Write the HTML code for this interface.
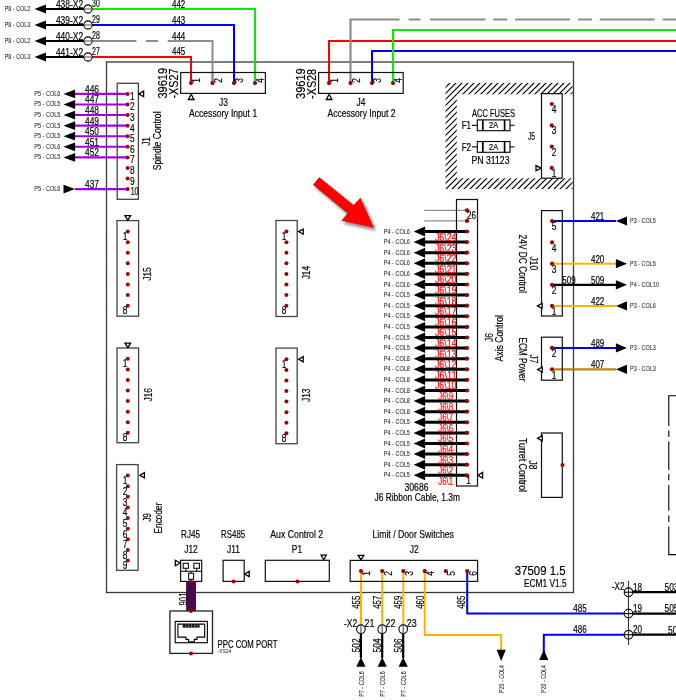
<!DOCTYPE html>
<html><head><meta charset="utf-8"><style>
html,body{margin:0;padding:0;background:#fff;overflow:hidden;}
svg{display:block;font-family:"Liberation Sans", sans-serif;will-change:transform;}
</style></head><body>
<svg width="676" height="700" viewBox="0 0 676 700">
<rect width="676" height="700" fill="#fff"/>
<rect x="106.50" y="62.00" width="467.00" height="530.50" fill="none" stroke="#383838" stroke-width="1.3"/>
<clipPath id="hc"><path d="M445.5,83 H572.6 V189 H445.5 Z M456.8,94.3 V178.2 H572.6 V94.3 Z" clip-rule="evenodd"/></clipPath>
<g clip-path="url(#hc)"><path d="M77,300 L377,0 M83,300 L383,0 M89,300 L389,0 M95,300 L395,0 M101,300 L401,0 M107,300 L407,0 M113,300 L413,0 M119,300 L419,0 M125,300 L425,0 M131,300 L431,0 M137,300 L437,0 M143,300 L443,0 M149,300 L449,0 M155,300 L455,0 M161,300 L461,0 M167,300 L467,0 M173,300 L473,0 M179,300 L479,0 M185,300 L485,0 M191,300 L491,0 M197,300 L497,0 M203,300 L503,0 M209,300 L509,0 M215,300 L515,0 M221,300 L521,0 M227,300 L527,0 M233,300 L533,0 M239,300 L539,0 M245,300 L545,0 M251,300 L551,0 M257,300 L557,0 M263,300 L563,0 M269,300 L569,0 M275,300 L575,0 M281,300 L581,0 M287,300 L587,0 M293,300 L593,0 M299,300 L599,0 M305,300 L605,0 M311,300 L611,0 M317,300 L617,0 M323,300 L623,0 M329,300 L629,0 M335,300 L635,0 M341,300 L641,0 M347,300 L647,0 M353,300 L653,0 M359,300 L659,0 M365,300 L665,0 M371,300 L671,0 M377,300 L677,0 M383,300 L683,0 M389,300 L689,0 M395,300 L695,0 M401,300 L701,0 M407,300 L707,0 M413,300 L713,0 M419,300 L719,0 M425,300 L725,0 M431,300 L731,0 M437,300 L737,0 M443,300 L743,0 M449,300 L749,0 M455,300 L755,0 M461,300 L761,0 M467,300 L767,0 M473,300 L773,0 M479,300 L779,0 M485,300 L785,0 M491,300 L791,0 M497,300 L797,0 M503,300 L803,0 M509,300 L809,0 M515,300 L815,0 M521,300 L821,0 M527,300 L827,0 M533,300 L833,0 M539,300 L839,0 M545,300 L845,0 M551,300 L851,0 M557,300 L857,0 M563,300 L863,0 M569,300 L869,0 M575,300 L875,0 M581,300 L881,0 M587,300 L887,0 M593,300 L893,0 M599,300 L899,0 M605,300 L905,0 M611,300 L911,0" stroke="#000" stroke-width="1.15" fill="none"/></g>
<polyline points="92.00,9.00 255.00,9.00 255.00,83.00" fill="none" stroke="#00f000" stroke-width="2" />
<text x="0" y="0" font-size="10.5" text-anchor="middle" dominant-baseline="central" fill="#000" stroke="#000" stroke-width="0.18" transform="translate(178.60 3.80)" textLength="13.3" lengthAdjust="spacingAndGlyphs" >442</text>
<polyline points="92.00,25.00 234.00,25.00 234.00,83.00" fill="none" stroke="#0000f0" stroke-width="2" />
<text x="0" y="0" font-size="10.5" text-anchor="middle" dominant-baseline="central" fill="#000" stroke="#000" stroke-width="0.18" transform="translate(178.60 19.90)" textLength="13.3" lengthAdjust="spacingAndGlyphs" >443</text>
<line x1="92.00" y1="41.00" x2="136.40" y2="41.00" stroke="#8c8c8c" stroke-width="2" />
<line x1="146.00" y1="41.00" x2="158.00" y2="41.00" stroke="#8c8c8c" stroke-width="2" />
<polyline points="167.70,41.00 212.50,41.00 212.50,83.00" fill="none" stroke="#8c8c8c" stroke-width="2" />
<text x="0" y="0" font-size="10.5" text-anchor="middle" dominant-baseline="central" fill="#000" stroke="#000" stroke-width="0.18" transform="translate(178.60 35.70)" textLength="13.3" lengthAdjust="spacingAndGlyphs" >444</text>
<polyline points="92.00,57.00 191.00,57.00 191.00,83.00" fill="none" stroke="#ff0000" stroke-width="2" />
<text x="0" y="0" font-size="10.5" text-anchor="middle" dominant-baseline="central" fill="#000" stroke="#000" stroke-width="0.18" transform="translate(178.60 50.50)" textLength="13.3" lengthAdjust="spacingAndGlyphs" >445</text>
<polygon points="34.40,9.00 46.00,4.60 46.00,13.40" fill="#000" stroke="none" stroke-width="1" />
<line x1="45.00" y1="9.00" x2="84.00" y2="9.00" stroke="#000" stroke-width="2.2" />
<text x="0" y="0" font-size="7.6" text-anchor="middle" dominant-baseline="central" fill="#222" stroke="#222" stroke-width="0.05" transform="translate(17.50 8.50)" textLength="25.5" lengthAdjust="spacingAndGlyphs" >P8 - COL2</text>
<text x="0" y="0" font-size="10.5" text-anchor="middle" dominant-baseline="central" fill="#000" stroke="#000" stroke-width="0.18" transform="translate(69.50 3.60)" textLength="27.2" lengthAdjust="spacingAndGlyphs" >438-X2</text>
<text x="0" y="0" font-size="10.5" text-anchor="middle" dominant-baseline="central" fill="#000" stroke="#000" stroke-width="0.18" transform="translate(95.90 3.40)" textLength="7.7" lengthAdjust="spacingAndGlyphs" >30</text>
<circle cx="88" cy="9" r="4.1" fill="#fff" stroke="#000" stroke-width="1.1"/>
<line x1="84.00" y1="9.00" x2="92.00" y2="9.00" stroke="#808080" stroke-width="1.4" />
<polygon points="34.40,25.00 46.00,20.60 46.00,29.40" fill="#000" stroke="none" stroke-width="1" />
<line x1="45.00" y1="25.00" x2="84.00" y2="25.00" stroke="#000" stroke-width="2.2" />
<text x="0" y="0" font-size="7.6" text-anchor="middle" dominant-baseline="central" fill="#222" stroke="#222" stroke-width="0.05" transform="translate(17.50 24.50)" textLength="25.5" lengthAdjust="spacingAndGlyphs" >P8 - COL3</text>
<text x="0" y="0" font-size="10.5" text-anchor="middle" dominant-baseline="central" fill="#000" stroke="#000" stroke-width="0.18" transform="translate(69.50 19.60)" textLength="27.2" lengthAdjust="spacingAndGlyphs" >439-X2</text>
<text x="0" y="0" font-size="10.5" text-anchor="middle" dominant-baseline="central" fill="#000" stroke="#000" stroke-width="0.18" transform="translate(95.90 19.40)" textLength="7.7" lengthAdjust="spacingAndGlyphs" >29</text>
<circle cx="88" cy="25" r="4.1" fill="#fff" stroke="#000" stroke-width="1.1"/>
<line x1="84.00" y1="25.00" x2="92.00" y2="25.00" stroke="#808080" stroke-width="1.4" />
<polygon points="34.40,41.00 46.00,36.60 46.00,45.40" fill="#000" stroke="none" stroke-width="1" />
<line x1="45.00" y1="41.00" x2="84.00" y2="41.00" stroke="#000" stroke-width="2.2" />
<text x="0" y="0" font-size="7.6" text-anchor="middle" dominant-baseline="central" fill="#222" stroke="#222" stroke-width="0.05" transform="translate(17.50 40.50)" textLength="25.5" lengthAdjust="spacingAndGlyphs" >P8 - COL2</text>
<text x="0" y="0" font-size="10.5" text-anchor="middle" dominant-baseline="central" fill="#000" stroke="#000" stroke-width="0.18" transform="translate(69.50 35.60)" textLength="27.2" lengthAdjust="spacingAndGlyphs" >440-X2</text>
<text x="0" y="0" font-size="10.5" text-anchor="middle" dominant-baseline="central" fill="#000" stroke="#000" stroke-width="0.18" transform="translate(95.90 35.40)" textLength="7.7" lengthAdjust="spacingAndGlyphs" >28</text>
<circle cx="88" cy="41" r="4.1" fill="#fff" stroke="#000" stroke-width="1.1"/>
<line x1="84.00" y1="41.00" x2="92.00" y2="41.00" stroke="#808080" stroke-width="1.4" />
<polygon points="34.40,57.00 46.00,52.60 46.00,61.40" fill="#000" stroke="none" stroke-width="1" />
<line x1="45.00" y1="57.00" x2="84.00" y2="57.00" stroke="#000" stroke-width="2.2" />
<text x="0" y="0" font-size="7.6" text-anchor="middle" dominant-baseline="central" fill="#222" stroke="#222" stroke-width="0.05" transform="translate(17.50 56.50)" textLength="25.5" lengthAdjust="spacingAndGlyphs" >P8 - COL3</text>
<text x="0" y="0" font-size="10.5" text-anchor="middle" dominant-baseline="central" fill="#000" stroke="#000" stroke-width="0.18" transform="translate(69.50 51.60)" textLength="27.2" lengthAdjust="spacingAndGlyphs" >441-X2</text>
<text x="0" y="0" font-size="10.5" text-anchor="middle" dominant-baseline="central" fill="#000" stroke="#000" stroke-width="0.18" transform="translate(95.90 51.40)" textLength="7.7" lengthAdjust="spacingAndGlyphs" >27</text>
<circle cx="88" cy="57" r="4.1" fill="#fff" stroke="#000" stroke-width="1.1"/>
<line x1="84.00" y1="57.00" x2="92.00" y2="57.00" stroke="#808080" stroke-width="1.4" />
<line x1="255.00" y1="72.00" x2="255.00" y2="83.00" stroke="#00f000" stroke-width="2" />
<line x1="234.00" y1="72.00" x2="234.00" y2="83.00" stroke="#0000f0" stroke-width="2" />
<line x1="212.50" y1="72.00" x2="212.50" y2="83.00" stroke="#8c8c8c" stroke-width="2" />
<line x1="191.00" y1="72.00" x2="191.00" y2="83.00" stroke="#ff0000" stroke-width="2" />
<rect x="180.70" y="72.50" width="84.70" height="20.90" fill="none" stroke="#111" stroke-width="1.2"/>
<circle cx="191.00" cy="83.10" r="2.1" fill="#a80000"/>
<text x="0" y="0" font-size="10.5" text-anchor="middle" dominant-baseline="central" fill="#000" stroke="#000" stroke-width="0.18" transform="translate(196.50 80.40) rotate(-90) scale(0.8 1)" >1</text>
<circle cx="212.50" cy="83.10" r="2.1" fill="#a80000"/>
<text x="0" y="0" font-size="10.5" text-anchor="middle" dominant-baseline="central" fill="#000" stroke="#000" stroke-width="0.18" transform="translate(218.00 80.40) rotate(-90) scale(0.8 1)" >2</text>
<circle cx="234.00" cy="83.10" r="2.1" fill="#a80000"/>
<text x="0" y="0" font-size="10.5" text-anchor="middle" dominant-baseline="central" fill="#000" stroke="#000" stroke-width="0.18" transform="translate(239.50 80.40) rotate(-90) scale(0.8 1)" >3</text>
<circle cx="255.00" cy="83.10" r="2.1" fill="#a80000"/>
<text x="0" y="0" font-size="10.5" text-anchor="middle" dominant-baseline="central" fill="#000" stroke="#000" stroke-width="0.18" transform="translate(260.50 80.40) rotate(-90) scale(0.8 1)" >4</text>
<polygon points="191.20,94.30 188.40,99.50 194.00,99.50" fill="#fff" stroke="#000" stroke-width="1.3" />
<text x="0" y="0" font-size="10.5" text-anchor="middle" dominant-baseline="central" fill="#000" stroke="#000" stroke-width="0.18" transform="translate(223.40 101.70) scale(0.8 1)" >J3</text>
<text x="0" y="0" font-size="10.5" text-anchor="middle" dominant-baseline="central" fill="#000" stroke="#000" stroke-width="0.18" transform="translate(223.10 112.60)" textLength="68.1" lengthAdjust="spacingAndGlyphs" >Accessory Input 1</text>
<text x="0" y="0" font-size="13" text-anchor="middle" dominant-baseline="central" fill="#000" stroke="#000" stroke-width="0.18" transform="translate(162.70 83.20) rotate(-90)" textLength="30.7" lengthAdjust="spacingAndGlyphs" >39619</text>
<text x="0" y="0" font-size="13" text-anchor="middle" dominant-baseline="central" fill="#000" stroke="#000" stroke-width="0.18" transform="translate(173.60 83.50) rotate(-90)" textLength="30" lengthAdjust="spacingAndGlyphs" >-XS27</text>
<polyline points="329.00,83.00 329.00,41.00 676.00,41.00" fill="none" stroke="#ff0000" stroke-width="2" />
<polyline points="372.00,83.00 372.00,51.00 676.00,51.00" fill="none" stroke="#0000f0" stroke-width="2" />
<polyline points="393.00,83.00 393.00,30.00 676.00,30.00" fill="none" stroke="#00f000" stroke-width="2" />
<polyline points="350.50,83.00 350.50,19.50 399.50,19.50" fill="none" stroke="#8c8c8c" stroke-width="2.2" />
<line x1="409.50" y1="19.50" x2="419.60" y2="19.50" stroke="#8c8c8c" stroke-width="2.2" stroke-linecap="round"/>
<line x1="431.00" y1="19.50" x2="484.70" y2="19.50" stroke="#8c8c8c" stroke-width="2.2" stroke-linecap="round"/>
<line x1="494.00" y1="19.50" x2="506.30" y2="19.50" stroke="#8c8c8c" stroke-width="2.2" stroke-linecap="round"/>
<line x1="516.00" y1="19.50" x2="569.00" y2="19.50" stroke="#8c8c8c" stroke-width="2.2" stroke-linecap="round"/>
<line x1="579.00" y1="19.50" x2="591.00" y2="19.50" stroke="#8c8c8c" stroke-width="2.2" stroke-linecap="round"/>
<line x1="600.60" y1="19.50" x2="653.70" y2="19.50" stroke="#8c8c8c" stroke-width="2.2" stroke-linecap="round"/>
<line x1="663.50" y1="19.50" x2="676.00" y2="19.50" stroke="#8c8c8c" stroke-width="2.2" stroke-linecap="round"/>
<rect x="318.60" y="72.50" width="84.60" height="20.90" fill="none" stroke="#111" stroke-width="1.2"/>
<circle cx="329.00" cy="83.10" r="2.1" fill="#a80000"/>
<text x="0" y="0" font-size="10.5" text-anchor="middle" dominant-baseline="central" fill="#000" stroke="#000" stroke-width="0.18" transform="translate(334.50 80.40) rotate(-90) scale(0.8 1)" >1</text>
<circle cx="350.50" cy="83.10" r="2.1" fill="#a80000"/>
<text x="0" y="0" font-size="10.5" text-anchor="middle" dominant-baseline="central" fill="#000" stroke="#000" stroke-width="0.18" transform="translate(356.00 80.40) rotate(-90) scale(0.8 1)" >2</text>
<circle cx="372.00" cy="83.10" r="2.1" fill="#a80000"/>
<text x="0" y="0" font-size="10.5" text-anchor="middle" dominant-baseline="central" fill="#000" stroke="#000" stroke-width="0.18" transform="translate(377.50 80.40) rotate(-90) scale(0.8 1)" >3</text>
<circle cx="393.00" cy="83.10" r="2.1" fill="#a80000"/>
<text x="0" y="0" font-size="10.5" text-anchor="middle" dominant-baseline="central" fill="#000" stroke="#000" stroke-width="0.18" transform="translate(398.50 80.40) rotate(-90) scale(0.8 1)" >4</text>
<polygon points="329.10,94.30 326.30,99.50 331.90,99.50" fill="#fff" stroke="#000" stroke-width="1.3" />
<text x="0" y="0" font-size="10.5" text-anchor="middle" dominant-baseline="central" fill="#000" stroke="#000" stroke-width="0.18" transform="translate(361.00 101.70) scale(0.8 1)" >J4</text>
<text x="0" y="0" font-size="10.5" text-anchor="middle" dominant-baseline="central" fill="#000" stroke="#000" stroke-width="0.18" transform="translate(361.50 112.60)" textLength="68.1" lengthAdjust="spacingAndGlyphs" >Accessory Input 2</text>
<text x="0" y="0" font-size="13" text-anchor="middle" dominant-baseline="central" fill="#000" stroke="#000" stroke-width="0.18" transform="translate(300.70 83.60) rotate(-90)" textLength="30.7" lengthAdjust="spacingAndGlyphs" >39619</text>
<text x="0" y="0" font-size="13" text-anchor="middle" dominant-baseline="central" fill="#000" stroke="#000" stroke-width="0.18" transform="translate(311.60 83.90) rotate(-90)" textLength="30" lengthAdjust="spacingAndGlyphs" >-XS28</text>
<text x="0" y="0" font-size="10.5" text-anchor="middle" dominant-baseline="central" fill="#000" stroke="#000" stroke-width="0.18" transform="translate(493.50 112.70)" textLength="43" lengthAdjust="spacingAndGlyphs" >ACC FUSES</text>
<text x="0" y="0" font-size="10.5" text-anchor="middle" dominant-baseline="central" fill="#000" stroke="#000" stroke-width="0.18" transform="translate(466.40 125.30)" textLength="9.5" lengthAdjust="spacingAndGlyphs" >F1</text>
<line x1="472.00" y1="125.30" x2="477.30" y2="125.30" stroke="#000" stroke-width="1.1" />
<line x1="510.00" y1="125.30" x2="514.50" y2="125.30" stroke="#000" stroke-width="1.1" />
<rect x="477.30" y="119.90" width="32.70" height="10.80" fill="none" stroke="#000" stroke-width="1.1"/>
<line x1="482.80" y1="119.90" x2="482.80" y2="130.70" stroke="#000" stroke-width="1.7" />
<line x1="504.60" y1="119.90" x2="504.60" y2="130.70" stroke="#000" stroke-width="1.7" />
<text x="0" y="0" font-size="8.5" text-anchor="middle" dominant-baseline="central" fill="#000" stroke="#000" stroke-width="0.18" transform="translate(493.60 125.30)" textLength="9" lengthAdjust="spacingAndGlyphs" >2A</text>
<text x="0" y="0" font-size="10.5" text-anchor="middle" dominant-baseline="central" fill="#000" stroke="#000" stroke-width="0.18" transform="translate(466.40 146.90)" textLength="9.5" lengthAdjust="spacingAndGlyphs" >F2</text>
<line x1="472.00" y1="146.90" x2="477.30" y2="146.90" stroke="#000" stroke-width="1.1" />
<line x1="510.00" y1="146.90" x2="514.50" y2="146.90" stroke="#000" stroke-width="1.1" />
<rect x="477.30" y="141.50" width="32.70" height="10.80" fill="none" stroke="#000" stroke-width="1.1"/>
<line x1="482.80" y1="141.50" x2="482.80" y2="152.30" stroke="#000" stroke-width="1.7" />
<line x1="504.60" y1="141.50" x2="504.60" y2="152.30" stroke="#000" stroke-width="1.7" />
<text x="0" y="0" font-size="8.5" text-anchor="middle" dominant-baseline="central" fill="#000" stroke="#000" stroke-width="0.18" transform="translate(493.60 146.90)" textLength="9" lengthAdjust="spacingAndGlyphs" >2A</text>
<text x="0" y="0" font-size="10.5" text-anchor="middle" dominant-baseline="central" fill="#000" stroke="#000" stroke-width="0.18" transform="translate(490.50 160.00)" textLength="38" lengthAdjust="spacingAndGlyphs" >PN 31123</text>
<rect x="541.50" y="93.60" width="20.70" height="84.60" fill="none" stroke="#111" stroke-width="1.2"/>
<circle cx="551.80" cy="104.00" r="2.1" fill="#a80000"/>
<text x="0" y="0" font-size="10.5" text-anchor="middle" dominant-baseline="central" fill="#000" stroke="#000" stroke-width="0.18" transform="translate(554.00 109.20) scale(0.8 1)" >4</text>
<circle cx="551.80" cy="125.40" r="2.1" fill="#a80000"/>
<text x="0" y="0" font-size="10.5" text-anchor="middle" dominant-baseline="central" fill="#000" stroke="#000" stroke-width="0.18" transform="translate(554.00 130.60) scale(0.8 1)" >3</text>
<circle cx="551.80" cy="146.60" r="2.1" fill="#a80000"/>
<text x="0" y="0" font-size="10.5" text-anchor="middle" dominant-baseline="central" fill="#000" stroke="#000" stroke-width="0.18" transform="translate(554.00 151.80) scale(0.8 1)" >2</text>
<circle cx="551.80" cy="167.90" r="2.1" fill="#a80000"/>
<text x="0" y="0" font-size="10.5" text-anchor="middle" dominant-baseline="central" fill="#000" stroke="#000" stroke-width="0.18" transform="translate(554.00 173.10) scale(0.8 1)" >1</text>
<polygon points="541.20,168.20 536.00,165.60 536.00,170.80" fill="#fff" stroke="#000" stroke-width="1.3" />
<text x="0" y="0" font-size="10.5" text-anchor="middle" dominant-baseline="central" fill="#000" stroke="#000" stroke-width="0.18" transform="translate(531.50 135.70)" textLength="7" lengthAdjust="spacingAndGlyphs" >J5</text>
<filter id="sh" x="-30%" y="-30%" width="160%" height="160%"><feGaussianBlur stdDeviation="1.6"/></filter>
<polygon points="321.4,180.3 355.7,207.9 362.59999999999997,200.8 376.09999999999997,230.8 343.59999999999997,223.7 349.59999999999997,216.2 315.2,187.8" fill="#000" opacity="0.45" filter="url(#sh)"/>
<polygon points="319.20,177.30 353.50,204.90 360.40,197.80 373.90,227.80 341.40,220.70 347.40,213.20 313.00,184.80" fill="#ff0000" stroke="none" stroke-width="1" />
<line x1="424.20" y1="210.30" x2="467.00" y2="210.30" stroke="#909090" stroke-width="1.2" />
<line x1="424.20" y1="220.90" x2="467.00" y2="220.90" stroke="#909090" stroke-width="1.2" />
<line x1="424.00" y1="231.50" x2="467.00" y2="231.50" stroke="#000" stroke-width="3" />
<polygon points="413.60,231.50 425.10,226.50 425.10,236.50" fill="#000" stroke="none" stroke-width="1" />
<text x="0" y="0" font-size="7.6" text-anchor="middle" dominant-baseline="central" fill="#222" stroke="#222" stroke-width="0.05" transform="translate(396.80 231.00)" textLength="26" lengthAdjust="spacingAndGlyphs" >P4 - COL6</text>
<line x1="424.00" y1="242.10" x2="467.00" y2="242.10" stroke="#000" stroke-width="3" />
<polygon points="413.60,242.10 425.10,237.10 425.10,247.10" fill="#000" stroke="none" stroke-width="1" />
<text x="0" y="0" font-size="7.6" text-anchor="middle" dominant-baseline="central" fill="#222" stroke="#222" stroke-width="0.05" transform="translate(396.80 241.60)" textLength="26" lengthAdjust="spacingAndGlyphs" >P4 - COL6</text>
<line x1="424.00" y1="252.70" x2="467.00" y2="252.70" stroke="#000" stroke-width="3" />
<polygon points="413.60,252.70 425.10,247.70 425.10,257.70" fill="#000" stroke="none" stroke-width="1" />
<text x="0" y="0" font-size="7.6" text-anchor="middle" dominant-baseline="central" fill="#222" stroke="#222" stroke-width="0.05" transform="translate(396.80 252.20)" textLength="26" lengthAdjust="spacingAndGlyphs" >P4 - COL6</text>
<line x1="424.00" y1="263.30" x2="467.00" y2="263.30" stroke="#000" stroke-width="3" />
<polygon points="413.60,263.30 425.10,258.30 425.10,268.30" fill="#000" stroke="none" stroke-width="1" />
<text x="0" y="0" font-size="7.6" text-anchor="middle" dominant-baseline="central" fill="#222" stroke="#222" stroke-width="0.05" transform="translate(396.80 262.80)" textLength="26" lengthAdjust="spacingAndGlyphs" >P4 - COL6</text>
<line x1="424.00" y1="273.90" x2="467.00" y2="273.90" stroke="#000" stroke-width="3" />
<polygon points="413.60,273.90 425.10,268.90 425.10,278.90" fill="#000" stroke="none" stroke-width="1" />
<text x="0" y="0" font-size="7.6" text-anchor="middle" dominant-baseline="central" fill="#222" stroke="#222" stroke-width="0.05" transform="translate(396.80 273.40)" textLength="26" lengthAdjust="spacingAndGlyphs" >P4 - COL6</text>
<line x1="424.00" y1="284.50" x2="467.00" y2="284.50" stroke="#000" stroke-width="3" />
<polygon points="413.60,284.50 425.10,279.50 425.10,289.50" fill="#000" stroke="none" stroke-width="1" />
<text x="0" y="0" font-size="7.6" text-anchor="middle" dominant-baseline="central" fill="#222" stroke="#222" stroke-width="0.05" transform="translate(396.80 284.00)" textLength="26" lengthAdjust="spacingAndGlyphs" >P4 - COL6</text>
<line x1="424.00" y1="295.10" x2="467.00" y2="295.10" stroke="#000" stroke-width="3" />
<polygon points="413.60,295.10 425.10,290.10 425.10,300.10" fill="#000" stroke="none" stroke-width="1" />
<text x="0" y="0" font-size="7.6" text-anchor="middle" dominant-baseline="central" fill="#222" stroke="#222" stroke-width="0.05" transform="translate(396.80 294.60)" textLength="26" lengthAdjust="spacingAndGlyphs" >P4 - COL5</text>
<line x1="424.00" y1="305.70" x2="467.00" y2="305.70" stroke="#000" stroke-width="3" />
<polygon points="413.60,305.70 425.10,300.70 425.10,310.70" fill="#000" stroke="none" stroke-width="1" />
<text x="0" y="0" font-size="7.6" text-anchor="middle" dominant-baseline="central" fill="#222" stroke="#222" stroke-width="0.05" transform="translate(396.80 305.20)" textLength="26" lengthAdjust="spacingAndGlyphs" >P4 - COL5</text>
<line x1="424.00" y1="316.30" x2="467.00" y2="316.30" stroke="#000" stroke-width="3" />
<polygon points="413.60,316.30 425.10,311.30 425.10,321.30" fill="#000" stroke="none" stroke-width="1" />
<text x="0" y="0" font-size="7.6" text-anchor="middle" dominant-baseline="central" fill="#222" stroke="#222" stroke-width="0.05" transform="translate(396.80 315.80)" textLength="26" lengthAdjust="spacingAndGlyphs" >P4 - COL5</text>
<line x1="424.00" y1="326.90" x2="467.00" y2="326.90" stroke="#000" stroke-width="3" />
<polygon points="413.60,326.90 425.10,321.90 425.10,331.90" fill="#000" stroke="none" stroke-width="1" />
<text x="0" y="0" font-size="7.6" text-anchor="middle" dominant-baseline="central" fill="#222" stroke="#222" stroke-width="0.05" transform="translate(396.80 326.40)" textLength="26" lengthAdjust="spacingAndGlyphs" >P4 - COL5</text>
<line x1="424.00" y1="337.50" x2="467.00" y2="337.50" stroke="#000" stroke-width="3" />
<polygon points="413.60,337.50 425.10,332.50 425.10,342.50" fill="#000" stroke="none" stroke-width="1" />
<text x="0" y="0" font-size="7.6" text-anchor="middle" dominant-baseline="central" fill="#222" stroke="#222" stroke-width="0.05" transform="translate(396.80 337.00)" textLength="26" lengthAdjust="spacingAndGlyphs" >P4 - COL5</text>
<line x1="424.00" y1="348.10" x2="467.00" y2="348.10" stroke="#000" stroke-width="3" />
<polygon points="413.60,348.10 425.10,343.10 425.10,353.10" fill="#000" stroke="none" stroke-width="1" />
<text x="0" y="0" font-size="7.6" text-anchor="middle" dominant-baseline="central" fill="#222" stroke="#222" stroke-width="0.05" transform="translate(396.80 347.60)" textLength="26" lengthAdjust="spacingAndGlyphs" >P4 - COL5</text>
<line x1="424.00" y1="358.70" x2="467.00" y2="358.70" stroke="#000" stroke-width="3" />
<polygon points="413.60,358.70 425.10,353.70 425.10,363.70" fill="#000" stroke="none" stroke-width="1" />
<text x="0" y="0" font-size="7.6" text-anchor="middle" dominant-baseline="central" fill="#222" stroke="#222" stroke-width="0.05" transform="translate(396.80 358.20)" textLength="26" lengthAdjust="spacingAndGlyphs" >P4 - COL8</text>
<line x1="424.00" y1="369.30" x2="467.00" y2="369.30" stroke="#000" stroke-width="3" />
<polygon points="413.60,369.30 425.10,364.30 425.10,374.30" fill="#000" stroke="none" stroke-width="1" />
<text x="0" y="0" font-size="7.6" text-anchor="middle" dominant-baseline="central" fill="#222" stroke="#222" stroke-width="0.05" transform="translate(396.80 368.80)" textLength="26" lengthAdjust="spacingAndGlyphs" >P4 - COL8</text>
<line x1="424.00" y1="379.90" x2="467.00" y2="379.90" stroke="#000" stroke-width="3" />
<polygon points="413.60,379.90 425.10,374.90 425.10,384.90" fill="#000" stroke="none" stroke-width="1" />
<text x="0" y="0" font-size="7.6" text-anchor="middle" dominant-baseline="central" fill="#222" stroke="#222" stroke-width="0.05" transform="translate(396.80 379.40)" textLength="26" lengthAdjust="spacingAndGlyphs" >P4 - COL8</text>
<line x1="424.00" y1="390.50" x2="467.00" y2="390.50" stroke="#000" stroke-width="3" />
<polygon points="413.60,390.50 425.10,385.50 425.10,395.50" fill="#000" stroke="none" stroke-width="1" />
<text x="0" y="0" font-size="7.6" text-anchor="middle" dominant-baseline="central" fill="#222" stroke="#222" stroke-width="0.05" transform="translate(396.80 390.00)" textLength="26" lengthAdjust="spacingAndGlyphs" >P4 - COL8</text>
<line x1="424.00" y1="401.10" x2="467.00" y2="401.10" stroke="#000" stroke-width="3" />
<polygon points="413.60,401.10 425.10,396.10 425.10,406.10" fill="#000" stroke="none" stroke-width="1" />
<text x="0" y="0" font-size="7.6" text-anchor="middle" dominant-baseline="central" fill="#222" stroke="#222" stroke-width="0.05" transform="translate(396.80 400.60)" textLength="26" lengthAdjust="spacingAndGlyphs" >P4 - COL8</text>
<line x1="424.00" y1="411.70" x2="467.00" y2="411.70" stroke="#000" stroke-width="3" />
<polygon points="413.60,411.70 425.10,406.70 425.10,416.70" fill="#000" stroke="none" stroke-width="1" />
<text x="0" y="0" font-size="7.6" text-anchor="middle" dominant-baseline="central" fill="#222" stroke="#222" stroke-width="0.05" transform="translate(396.80 411.20)" textLength="26" lengthAdjust="spacingAndGlyphs" >P4 - COL8</text>
<line x1="424.00" y1="422.30" x2="467.00" y2="422.30" stroke="#000" stroke-width="3" />
<polygon points="413.60,422.30 425.10,417.30 425.10,427.30" fill="#000" stroke="none" stroke-width="1" />
<text x="0" y="0" font-size="7.6" text-anchor="middle" dominant-baseline="central" fill="#222" stroke="#222" stroke-width="0.05" transform="translate(396.80 421.80)" textLength="26" lengthAdjust="spacingAndGlyphs" >P4 - COL5</text>
<line x1="424.00" y1="432.90" x2="467.00" y2="432.90" stroke="#000" stroke-width="3" />
<polygon points="413.60,432.90 425.10,427.90 425.10,437.90" fill="#000" stroke="none" stroke-width="1" />
<text x="0" y="0" font-size="7.6" text-anchor="middle" dominant-baseline="central" fill="#222" stroke="#222" stroke-width="0.05" transform="translate(396.80 432.40)" textLength="26" lengthAdjust="spacingAndGlyphs" >P4 - COL5</text>
<line x1="424.00" y1="443.50" x2="467.00" y2="443.50" stroke="#000" stroke-width="3" />
<polygon points="413.60,443.50 425.10,438.50 425.10,448.50" fill="#000" stroke="none" stroke-width="1" />
<text x="0" y="0" font-size="7.6" text-anchor="middle" dominant-baseline="central" fill="#222" stroke="#222" stroke-width="0.05" transform="translate(396.80 443.00)" textLength="26" lengthAdjust="spacingAndGlyphs" >P4 - COL5</text>
<line x1="424.00" y1="454.10" x2="467.00" y2="454.10" stroke="#000" stroke-width="3" />
<polygon points="413.60,454.10 425.10,449.10 425.10,459.10" fill="#000" stroke="none" stroke-width="1" />
<text x="0" y="0" font-size="7.6" text-anchor="middle" dominant-baseline="central" fill="#222" stroke="#222" stroke-width="0.05" transform="translate(396.80 453.60)" textLength="26" lengthAdjust="spacingAndGlyphs" >P4 - COL5</text>
<line x1="424.00" y1="464.70" x2="467.00" y2="464.70" stroke="#000" stroke-width="3" />
<polygon points="413.60,464.70 425.10,459.70 425.10,469.70" fill="#000" stroke="none" stroke-width="1" />
<text x="0" y="0" font-size="7.6" text-anchor="middle" dominant-baseline="central" fill="#222" stroke="#222" stroke-width="0.05" transform="translate(396.80 464.20)" textLength="26" lengthAdjust="spacingAndGlyphs" >P4 - COL5</text>
<line x1="424.00" y1="475.30" x2="467.00" y2="475.30" stroke="#000" stroke-width="3" />
<polygon points="413.60,475.30 425.10,470.30 425.10,480.30" fill="#000" stroke="none" stroke-width="1" />
<text x="0" y="0" font-size="7.6" text-anchor="middle" dominant-baseline="central" fill="#222" stroke="#222" stroke-width="0.05" transform="translate(396.80 474.80)" textLength="26" lengthAdjust="spacingAndGlyphs" >P4 - COL5</text>
<rect x="456.50" y="199.50" width="21.00" height="286.50" fill="none" stroke="#111" stroke-width="1.2"/>
<circle cx="467.00" cy="210.30" r="2.1" fill="#a80000"/>
<circle cx="467.00" cy="220.90" r="2.1" fill="#a80000"/>
<text x="0" y="0" font-size="10.5" text-anchor="middle" dominant-baseline="central" fill="#ff0000" stroke="#ff0000" stroke-width="0.18" transform="translate(445.70 236.90)" textLength="21.6" lengthAdjust="spacingAndGlyphs" >J6\24</text>
<circle cx="467.00" cy="231.50" r="2.1" fill="#a80000"/>
<text x="0" y="0" font-size="10.5" text-anchor="middle" dominant-baseline="central" fill="#ff0000" stroke="#ff0000" stroke-width="0.18" transform="translate(445.70 247.50)" textLength="21.6" lengthAdjust="spacingAndGlyphs" >J6\23</text>
<circle cx="467.00" cy="242.10" r="2.1" fill="#a80000"/>
<text x="0" y="0" font-size="10.5" text-anchor="middle" dominant-baseline="central" fill="#ff0000" stroke="#ff0000" stroke-width="0.18" transform="translate(445.70 258.10)" textLength="21.6" lengthAdjust="spacingAndGlyphs" >J6\22</text>
<circle cx="467.00" cy="252.70" r="2.1" fill="#a80000"/>
<text x="0" y="0" font-size="10.5" text-anchor="middle" dominant-baseline="central" fill="#ff0000" stroke="#ff0000" stroke-width="0.18" transform="translate(445.70 268.70)" textLength="21.6" lengthAdjust="spacingAndGlyphs" >J6\21</text>
<circle cx="467.00" cy="263.30" r="2.1" fill="#a80000"/>
<text x="0" y="0" font-size="10.5" text-anchor="middle" dominant-baseline="central" fill="#ff0000" stroke="#ff0000" stroke-width="0.18" transform="translate(445.70 279.30)" textLength="21.6" lengthAdjust="spacingAndGlyphs" >J6\20</text>
<circle cx="467.00" cy="273.90" r="2.1" fill="#a80000"/>
<text x="0" y="0" font-size="10.5" text-anchor="middle" dominant-baseline="central" fill="#ff0000" stroke="#ff0000" stroke-width="0.18" transform="translate(445.70 289.90)" textLength="21.6" lengthAdjust="spacingAndGlyphs" >J6\19</text>
<circle cx="467.00" cy="284.50" r="2.1" fill="#a80000"/>
<text x="0" y="0" font-size="10.5" text-anchor="middle" dominant-baseline="central" fill="#ff0000" stroke="#ff0000" stroke-width="0.18" transform="translate(445.70 300.50)" textLength="21.6" lengthAdjust="spacingAndGlyphs" >J6\18</text>
<circle cx="467.00" cy="295.10" r="2.1" fill="#a80000"/>
<text x="0" y="0" font-size="10.5" text-anchor="middle" dominant-baseline="central" fill="#ff0000" stroke="#ff0000" stroke-width="0.18" transform="translate(445.70 311.10)" textLength="21.6" lengthAdjust="spacingAndGlyphs" >J6\17</text>
<circle cx="467.00" cy="305.70" r="2.1" fill="#a80000"/>
<text x="0" y="0" font-size="10.5" text-anchor="middle" dominant-baseline="central" fill="#ff0000" stroke="#ff0000" stroke-width="0.18" transform="translate(445.70 321.70)" textLength="21.6" lengthAdjust="spacingAndGlyphs" >J6\16</text>
<circle cx="467.00" cy="316.30" r="2.1" fill="#a80000"/>
<text x="0" y="0" font-size="10.5" text-anchor="middle" dominant-baseline="central" fill="#ff0000" stroke="#ff0000" stroke-width="0.18" transform="translate(445.70 332.30)" textLength="21.6" lengthAdjust="spacingAndGlyphs" >J6\15</text>
<circle cx="467.00" cy="326.90" r="2.1" fill="#a80000"/>
<text x="0" y="0" font-size="10.5" text-anchor="middle" dominant-baseline="central" fill="#ff0000" stroke="#ff0000" stroke-width="0.18" transform="translate(445.70 342.90)" textLength="21.6" lengthAdjust="spacingAndGlyphs" >J6\14</text>
<circle cx="467.00" cy="337.50" r="2.1" fill="#a80000"/>
<text x="0" y="0" font-size="10.5" text-anchor="middle" dominant-baseline="central" fill="#ff0000" stroke="#ff0000" stroke-width="0.18" transform="translate(445.70 353.50)" textLength="21.6" lengthAdjust="spacingAndGlyphs" >J6\13</text>
<circle cx="467.00" cy="348.10" r="2.1" fill="#a80000"/>
<text x="0" y="0" font-size="10.5" text-anchor="middle" dominant-baseline="central" fill="#ff0000" stroke="#ff0000" stroke-width="0.18" transform="translate(445.70 364.10)" textLength="21.6" lengthAdjust="spacingAndGlyphs" >J6\12</text>
<circle cx="467.00" cy="358.70" r="2.1" fill="#a80000"/>
<text x="0" y="0" font-size="10.5" text-anchor="middle" dominant-baseline="central" fill="#ff0000" stroke="#ff0000" stroke-width="0.18" transform="translate(445.70 374.70)" textLength="21.6" lengthAdjust="spacingAndGlyphs" >J6\11</text>
<circle cx="467.00" cy="369.30" r="2.1" fill="#a80000"/>
<text x="0" y="0" font-size="10.5" text-anchor="middle" dominant-baseline="central" fill="#ff0000" stroke="#ff0000" stroke-width="0.18" transform="translate(445.70 385.30)" textLength="21.6" lengthAdjust="spacingAndGlyphs" >J6\10</text>
<circle cx="467.00" cy="379.90" r="2.1" fill="#a80000"/>
<text x="0" y="0" font-size="10.5" text-anchor="middle" dominant-baseline="central" fill="#ff0000" stroke="#ff0000" stroke-width="0.18" transform="translate(445.70 395.90)" textLength="14.8" lengthAdjust="spacingAndGlyphs" >J6\9</text>
<circle cx="467.00" cy="390.50" r="2.1" fill="#a80000"/>
<text x="0" y="0" font-size="10.5" text-anchor="middle" dominant-baseline="central" fill="#ff0000" stroke="#ff0000" stroke-width="0.18" transform="translate(445.70 406.50)" textLength="14.8" lengthAdjust="spacingAndGlyphs" >J6\8</text>
<circle cx="467.00" cy="401.10" r="2.1" fill="#a80000"/>
<text x="0" y="0" font-size="10.5" text-anchor="middle" dominant-baseline="central" fill="#ff0000" stroke="#ff0000" stroke-width="0.18" transform="translate(445.70 417.10)" textLength="14.8" lengthAdjust="spacingAndGlyphs" >J6\7</text>
<circle cx="467.00" cy="411.70" r="2.1" fill="#a80000"/>
<text x="0" y="0" font-size="10.5" text-anchor="middle" dominant-baseline="central" fill="#ff0000" stroke="#ff0000" stroke-width="0.18" transform="translate(445.70 427.70)" textLength="14.8" lengthAdjust="spacingAndGlyphs" >J6\6</text>
<circle cx="467.00" cy="422.30" r="2.1" fill="#a80000"/>
<text x="0" y="0" font-size="10.5" text-anchor="middle" dominant-baseline="central" fill="#ff0000" stroke="#ff0000" stroke-width="0.18" transform="translate(445.70 438.30)" textLength="14.8" lengthAdjust="spacingAndGlyphs" >J6\5</text>
<circle cx="467.00" cy="432.90" r="2.1" fill="#a80000"/>
<text x="0" y="0" font-size="10.5" text-anchor="middle" dominant-baseline="central" fill="#ff0000" stroke="#ff0000" stroke-width="0.18" transform="translate(445.70 448.90)" textLength="14.8" lengthAdjust="spacingAndGlyphs" >J6\4</text>
<circle cx="467.00" cy="443.50" r="2.1" fill="#a80000"/>
<text x="0" y="0" font-size="10.5" text-anchor="middle" dominant-baseline="central" fill="#ff0000" stroke="#ff0000" stroke-width="0.18" transform="translate(445.70 459.50)" textLength="14.8" lengthAdjust="spacingAndGlyphs" >J6\3</text>
<circle cx="467.00" cy="454.10" r="2.1" fill="#a80000"/>
<text x="0" y="0" font-size="10.5" text-anchor="middle" dominant-baseline="central" fill="#ff0000" stroke="#ff0000" stroke-width="0.18" transform="translate(445.70 470.10)" textLength="14.8" lengthAdjust="spacingAndGlyphs" >J6\2</text>
<circle cx="467.00" cy="464.70" r="2.1" fill="#a80000"/>
<text x="0" y="0" font-size="10.5" text-anchor="middle" dominant-baseline="central" fill="#ff0000" stroke="#ff0000" stroke-width="0.18" transform="translate(445.70 480.70)" textLength="14.8" lengthAdjust="spacingAndGlyphs" >J6\1</text>
<circle cx="467.00" cy="475.30" r="2.1" fill="#a80000"/>
<text x="0" y="0" font-size="10.5" text-anchor="middle" dominant-baseline="central" fill="#000" stroke="#000" stroke-width="0.18" transform="translate(471.40 214.50)" textLength="9" lengthAdjust="spacingAndGlyphs" >26</text>
<text x="0" y="0" font-size="10.5" text-anchor="middle" dominant-baseline="central" fill="#000" stroke="#000" stroke-width="0.18" transform="translate(468.60 480.00) scale(0.8 1)" >1</text>
<polygon points="477.80,475.30 482.60,472.50 482.60,478.10" fill="#fff" stroke="#000" stroke-width="1.3" />
<text x="0" y="0" font-size="10.5" text-anchor="middle" dominant-baseline="central" fill="#000" stroke="#000" stroke-width="0.18" transform="translate(416.50 486.70)" textLength="24" lengthAdjust="spacingAndGlyphs" >30686</text>
<text x="0" y="0" font-size="10.5" text-anchor="middle" dominant-baseline="central" fill="#000" stroke="#000" stroke-width="0.18" transform="translate(417.20 497.20)" textLength="85.5" lengthAdjust="spacingAndGlyphs" >J6 Ribbon Cable, 1.3m</text>
<text x="0" y="0" font-size="10.5" text-anchor="middle" dominant-baseline="central" fill="#000" stroke="#000" stroke-width="0.18" transform="translate(488.90 337.50) rotate(-90) scale(0.8 1)" >J6</text>
<text x="0" y="0" font-size="10.5" text-anchor="middle" dominant-baseline="central" fill="#000" stroke="#000" stroke-width="0.18" transform="translate(499.30 338.20) rotate(-90)" textLength="46.4" lengthAdjust="spacingAndGlyphs" >Axis Control</text>
<line x1="552.00" y1="221.00" x2="616.00" y2="221.00" stroke="#0000f0" stroke-width="2" />
<polygon points="615.90,221.00 627.00,216.40 627.00,225.60" fill="#000" stroke="none" stroke-width="1" />
<line x1="552.00" y1="263.70" x2="616.00" y2="263.70" stroke="#ffb300" stroke-width="2" />
<polygon points="627.00,263.70 615.90,259.10 615.90,268.30" fill="#000" stroke="none" stroke-width="1" />
<line x1="552.00" y1="284.80" x2="616.00" y2="284.80" stroke="#000" stroke-width="2.2" />
<polygon points="627.00,284.80 615.90,280.20 615.90,289.40" fill="#000" stroke="none" stroke-width="1" />
<line x1="552.00" y1="305.90" x2="616.00" y2="305.90" stroke="#ffb300" stroke-width="2" />
<polygon points="615.90,305.90 627.00,301.30 627.00,310.50" fill="#000" stroke="none" stroke-width="1" />
<rect x="541.50" y="210.60" width="20.80" height="105.40" fill="none" stroke="#111" stroke-width="1.2"/>
<circle cx="552.00" cy="221.00" r="2.1" fill="#a80000"/>
<text x="0" y="0" font-size="10.5" text-anchor="middle" dominant-baseline="central" fill="#000" stroke="#000" stroke-width="0.18" transform="translate(554.20 226.50) scale(0.8 1)" >5</text>
<circle cx="552.00" cy="242.40" r="2.1" fill="#a80000"/>
<text x="0" y="0" font-size="10.5" text-anchor="middle" dominant-baseline="central" fill="#000" stroke="#000" stroke-width="0.18" transform="translate(554.20 247.90) scale(0.8 1)" >4</text>
<circle cx="552.00" cy="263.70" r="2.1" fill="#a80000"/>
<text x="0" y="0" font-size="10.5" text-anchor="middle" dominant-baseline="central" fill="#000" stroke="#000" stroke-width="0.18" transform="translate(554.20 269.20) scale(0.8 1)" >3</text>
<circle cx="552.00" cy="284.80" r="2.1" fill="#a80000"/>
<text x="0" y="0" font-size="10.5" text-anchor="middle" dominant-baseline="central" fill="#000" stroke="#000" stroke-width="0.18" transform="translate(554.20 290.30) scale(0.8 1)" >2</text>
<circle cx="552.00" cy="305.90" r="2.1" fill="#a80000"/>
<text x="0" y="0" font-size="10.5" text-anchor="middle" dominant-baseline="central" fill="#000" stroke="#000" stroke-width="0.18" transform="translate(554.20 311.40) scale(0.8 1)" >1</text>
<text x="0" y="0" font-size="10.5" text-anchor="middle" dominant-baseline="central" fill="#000" stroke="#000" stroke-width="0.18" transform="translate(597.60 215.80)" textLength="13.3" lengthAdjust="spacingAndGlyphs" >421</text>
<text x="0" y="0" font-size="7.6" text-anchor="middle" dominant-baseline="central" fill="#222" stroke="#222" stroke-width="0.05" transform="translate(642.85 220.50)" textLength="25.7" lengthAdjust="spacingAndGlyphs" >P3 - COL5</text>
<text x="0" y="0" font-size="10.5" text-anchor="middle" dominant-baseline="central" fill="#000" stroke="#000" stroke-width="0.18" transform="translate(597.60 258.50)" textLength="13.3" lengthAdjust="spacingAndGlyphs" >420</text>
<text x="0" y="0" font-size="7.6" text-anchor="middle" dominant-baseline="central" fill="#222" stroke="#222" stroke-width="0.05" transform="translate(642.85 263.20)" textLength="25.7" lengthAdjust="spacingAndGlyphs" >P3 - COL5</text>
<text x="0" y="0" font-size="10.5" text-anchor="middle" dominant-baseline="central" fill="#000" stroke="#000" stroke-width="0.18" transform="translate(597.60 279.60)" textLength="13.3" lengthAdjust="spacingAndGlyphs" >509</text>
<text x="0" y="0" font-size="7.6" text-anchor="middle" dominant-baseline="central" fill="#222" stroke="#222" stroke-width="0.05" transform="translate(644.50 284.30)" textLength="29" lengthAdjust="spacingAndGlyphs" >P4 - COL10</text>
<text x="0" y="0" font-size="10.5" text-anchor="middle" dominant-baseline="central" fill="#000" stroke="#000" stroke-width="0.18" transform="translate(597.60 300.70)" textLength="13.3" lengthAdjust="spacingAndGlyphs" >422</text>
<text x="0" y="0" font-size="7.6" text-anchor="middle" dominant-baseline="central" fill="#222" stroke="#222" stroke-width="0.05" transform="translate(642.85 305.40)" textLength="25.7" lengthAdjust="spacingAndGlyphs" >P3 - COL6</text>
<text x="0" y="0" font-size="10.5" text-anchor="middle" dominant-baseline="central" fill="#000" stroke="#000" stroke-width="0.18" transform="translate(569.00 279.60)" textLength="13.3" lengthAdjust="spacingAndGlyphs" >509</text>
<polygon points="537.50,305.90 542.10,303.30 542.10,308.50" fill="#fff" stroke="#000" stroke-width="1.3" />
<text x="0" y="0" font-size="10.5" text-anchor="middle" dominant-baseline="central" fill="#000" stroke="#000" stroke-width="0.18" transform="translate(533.40 263.30) rotate(90) scale(0.8 1)" >J10</text>
<text x="0" y="0" font-size="10.5" text-anchor="middle" dominant-baseline="central" fill="#000" stroke="#000" stroke-width="0.18" transform="translate(522.70 263.80) rotate(90)" textLength="58.4" lengthAdjust="spacingAndGlyphs" >24V DC Control</text>
<line x1="552.00" y1="347.90" x2="616.00" y2="347.90" stroke="#0000f0" stroke-width="2" />
<polygon points="627.00,347.90 615.90,343.30 615.90,352.50" fill="#000" stroke="none" stroke-width="1" />
<line x1="552.00" y1="369.30" x2="616.00" y2="369.30" stroke="#b8860b" stroke-width="2.2" />
<polygon points="615.90,369.30 627.00,364.70 627.00,373.90" fill="#000" stroke="none" stroke-width="1" />
<rect x="541.50" y="337.20" width="20.80" height="43.00" fill="none" stroke="#111" stroke-width="1.2"/>
<circle cx="552.00" cy="347.90" r="2.1" fill="#a80000"/>
<circle cx="552.00" cy="369.30" r="2.1" fill="#a80000"/>
<text x="0" y="0" font-size="10.5" text-anchor="middle" dominant-baseline="central" fill="#000" stroke="#000" stroke-width="0.18" transform="translate(554.20 353.40) scale(0.8 1)" >2</text>
<text x="0" y="0" font-size="10.5" text-anchor="middle" dominant-baseline="central" fill="#000" stroke="#000" stroke-width="0.18" transform="translate(554.20 374.80) scale(0.8 1)" >1</text>
<text x="0" y="0" font-size="10.5" text-anchor="middle" dominant-baseline="central" fill="#000" stroke="#000" stroke-width="0.18" transform="translate(597.60 342.70)" textLength="13.3" lengthAdjust="spacingAndGlyphs" >489</text>
<text x="0" y="0" font-size="10.5" text-anchor="middle" dominant-baseline="central" fill="#000" stroke="#000" stroke-width="0.18" transform="translate(597.60 364.10)" textLength="13.3" lengthAdjust="spacingAndGlyphs" >407</text>
<text x="0" y="0" font-size="7.6" text-anchor="middle" dominant-baseline="central" fill="#222" stroke="#222" stroke-width="0.05" transform="translate(642.90 347.40)" textLength="25.7" lengthAdjust="spacingAndGlyphs" >P3 - COL3</text>
<text x="0" y="0" font-size="7.6" text-anchor="middle" dominant-baseline="central" fill="#222" stroke="#222" stroke-width="0.05" transform="translate(642.90 368.80)" textLength="25.7" lengthAdjust="spacingAndGlyphs" >P3 - COL3</text>
<polygon points="537.60,369.60 542.20,367.00 542.20,372.20" fill="#fff" stroke="#000" stroke-width="1.3" />
<text x="0" y="0" font-size="10.5" text-anchor="middle" dominant-baseline="central" fill="#000" stroke="#000" stroke-width="0.18" transform="translate(533.50 359.00) rotate(90) scale(0.8 1)" >J7</text>
<text x="0" y="0" font-size="10.5" text-anchor="middle" dominant-baseline="central" fill="#000" stroke="#000" stroke-width="0.18" transform="translate(522.60 359.40) rotate(90)" textLength="44" lengthAdjust="spacingAndGlyphs" >ECM Power</text>
<rect x="541.50" y="433.00" width="20.80" height="64.40" fill="none" stroke="#111" stroke-width="1.2"/>
<circle cx="562.50" cy="465.00" r="2.1" fill="#a80000"/>
<polygon points="537.60,438.30 542.20,435.70 542.20,440.90" fill="#fff" stroke="#000" stroke-width="1.3" />
<text x="0" y="0" font-size="10.5" text-anchor="middle" dominant-baseline="central" fill="#000" stroke="#000" stroke-width="0.18" transform="translate(533.30 465.00) rotate(90) scale(0.8 1)" >J8</text>
<text x="0" y="0" font-size="10.5" text-anchor="middle" dominant-baseline="central" fill="#000" stroke="#000" stroke-width="0.18" transform="translate(522.60 465.00) rotate(90)" textLength="54" lengthAdjust="spacingAndGlyphs" >Turret Control</text>
<path d="M676,395.7 H668.8 V554.6 H676" fill="none" stroke="#000" stroke-width="1.1" stroke-dasharray="37.4 4.7 6.3 4.7 28.3 4.1 6.3 4.7 25.8 4.8 6.3 4.7 200"/>
<line x1="75.00" y1="93.90" x2="127.60" y2="93.90" stroke="#a000e8" stroke-width="2.1" />
<polygon points="63.50,93.90 75.10,89.50 75.10,98.30" fill="#000" stroke="none" stroke-width="1" />
<text x="0" y="0" font-size="7.6" text-anchor="middle" dominant-baseline="central" fill="#222" stroke="#222" stroke-width="0.05" transform="translate(47.30 93.40)" textLength="26" lengthAdjust="spacingAndGlyphs" >P5 - COL6</text>
<text x="0" y="0" font-size="10.5" text-anchor="middle" dominant-baseline="central" fill="#000" stroke="#000" stroke-width="0.18" transform="translate(92.00 88.80)" textLength="14" lengthAdjust="spacingAndGlyphs" >446</text>
<line x1="75.00" y1="104.48" x2="127.60" y2="104.48" stroke="#a000e8" stroke-width="2.1" />
<polygon points="63.50,104.48 75.10,100.08 75.10,108.88" fill="#000" stroke="none" stroke-width="1" />
<text x="0" y="0" font-size="7.6" text-anchor="middle" dominant-baseline="central" fill="#222" stroke="#222" stroke-width="0.05" transform="translate(47.30 103.98)" textLength="26" lengthAdjust="spacingAndGlyphs" >P5 - COL5</text>
<text x="0" y="0" font-size="10.5" text-anchor="middle" dominant-baseline="central" fill="#000" stroke="#000" stroke-width="0.18" transform="translate(92.00 99.38)" textLength="14" lengthAdjust="spacingAndGlyphs" >447</text>
<line x1="75.00" y1="115.06" x2="127.60" y2="115.06" stroke="#a000e8" stroke-width="2.1" />
<polygon points="63.50,115.06 75.10,110.66 75.10,119.46" fill="#000" stroke="none" stroke-width="1" />
<text x="0" y="0" font-size="7.6" text-anchor="middle" dominant-baseline="central" fill="#222" stroke="#222" stroke-width="0.05" transform="translate(47.30 114.56)" textLength="26" lengthAdjust="spacingAndGlyphs" >P5 - COL5</text>
<text x="0" y="0" font-size="10.5" text-anchor="middle" dominant-baseline="central" fill="#000" stroke="#000" stroke-width="0.18" transform="translate(92.00 109.96)" textLength="14" lengthAdjust="spacingAndGlyphs" >448</text>
<line x1="75.00" y1="125.64" x2="127.60" y2="125.64" stroke="#a000e8" stroke-width="2.1" />
<polygon points="63.50,125.64 75.10,121.24 75.10,130.04" fill="#000" stroke="none" stroke-width="1" />
<text x="0" y="0" font-size="7.6" text-anchor="middle" dominant-baseline="central" fill="#222" stroke="#222" stroke-width="0.05" transform="translate(47.30 125.14)" textLength="26" lengthAdjust="spacingAndGlyphs" >P5 - COL5</text>
<text x="0" y="0" font-size="10.5" text-anchor="middle" dominant-baseline="central" fill="#000" stroke="#000" stroke-width="0.18" transform="translate(92.00 120.54)" textLength="14" lengthAdjust="spacingAndGlyphs" >449</text>
<line x1="75.00" y1="136.22" x2="127.60" y2="136.22" stroke="#a000e8" stroke-width="2.1" />
<polygon points="63.50,136.22 75.10,131.82 75.10,140.62" fill="#000" stroke="none" stroke-width="1" />
<text x="0" y="0" font-size="7.6" text-anchor="middle" dominant-baseline="central" fill="#222" stroke="#222" stroke-width="0.05" transform="translate(47.30 135.72)" textLength="26" lengthAdjust="spacingAndGlyphs" >P5 - COL5</text>
<text x="0" y="0" font-size="10.5" text-anchor="middle" dominant-baseline="central" fill="#000" stroke="#000" stroke-width="0.18" transform="translate(92.00 131.12)" textLength="14" lengthAdjust="spacingAndGlyphs" >450</text>
<line x1="75.00" y1="146.80" x2="127.60" y2="146.80" stroke="#a000e8" stroke-width="2.1" />
<polygon points="63.50,146.80 75.10,142.40 75.10,151.20" fill="#000" stroke="none" stroke-width="1" />
<text x="0" y="0" font-size="7.6" text-anchor="middle" dominant-baseline="central" fill="#222" stroke="#222" stroke-width="0.05" transform="translate(47.30 146.30)" textLength="26" lengthAdjust="spacingAndGlyphs" >P5 - COL6</text>
<text x="0" y="0" font-size="10.5" text-anchor="middle" dominant-baseline="central" fill="#000" stroke="#000" stroke-width="0.18" transform="translate(92.00 141.70)" textLength="14" lengthAdjust="spacingAndGlyphs" >451</text>
<line x1="75.00" y1="157.38" x2="127.60" y2="157.38" stroke="#a000e8" stroke-width="2.1" />
<polygon points="63.50,157.38 75.10,152.98 75.10,161.78" fill="#000" stroke="none" stroke-width="1" />
<text x="0" y="0" font-size="7.6" text-anchor="middle" dominant-baseline="central" fill="#222" stroke="#222" stroke-width="0.05" transform="translate(47.30 156.88)" textLength="26" lengthAdjust="spacingAndGlyphs" >P5 - COL5</text>
<text x="0" y="0" font-size="10.5" text-anchor="middle" dominant-baseline="central" fill="#000" stroke="#000" stroke-width="0.18" transform="translate(92.00 152.28)" textLength="14" lengthAdjust="spacingAndGlyphs" >452</text>
<line x1="75.00" y1="189.12" x2="127.60" y2="189.12" stroke="#a000e8" stroke-width="2.1" />
<polygon points="75.10,189.12 63.50,184.72 63.50,193.52" fill="#000" stroke="none" stroke-width="1" />
<text x="0" y="0" font-size="7.6" text-anchor="middle" dominant-baseline="central" fill="#222" stroke="#222" stroke-width="0.05" transform="translate(47.30 188.62)" textLength="26" lengthAdjust="spacingAndGlyphs" >P5 - COL6</text>
<text x="0" y="0" font-size="10.5" text-anchor="middle" dominant-baseline="central" fill="#000" stroke="#000" stroke-width="0.18" transform="translate(92.00 184.02)" textLength="14" lengthAdjust="spacingAndGlyphs" >437</text>
<rect x="117.20" y="83.30" width="21.20" height="116.00" fill="none" stroke="#444" stroke-width="1.3"/>
<circle cx="127.60" cy="93.90" r="2.0" fill="#a80000"/>
<text x="0" y="0" font-size="10.5" text-anchor="middle" dominant-baseline="central" fill="#000" stroke="#000" stroke-width="0.18" transform="translate(132.30 96.00) scale(0.8 1)" >1</text>
<circle cx="127.60" cy="104.48" r="2.0" fill="#a80000"/>
<text x="0" y="0" font-size="10.5" text-anchor="middle" dominant-baseline="central" fill="#000" stroke="#000" stroke-width="0.18" transform="translate(132.30 106.58) scale(0.8 1)" >2</text>
<circle cx="127.60" cy="115.06" r="2.0" fill="#a80000"/>
<text x="0" y="0" font-size="10.5" text-anchor="middle" dominant-baseline="central" fill="#000" stroke="#000" stroke-width="0.18" transform="translate(132.30 117.16) scale(0.8 1)" >3</text>
<circle cx="127.60" cy="125.64" r="2.0" fill="#a80000"/>
<text x="0" y="0" font-size="10.5" text-anchor="middle" dominant-baseline="central" fill="#000" stroke="#000" stroke-width="0.18" transform="translate(132.30 127.74) scale(0.8 1)" >4</text>
<circle cx="127.60" cy="136.22" r="2.0" fill="#a80000"/>
<text x="0" y="0" font-size="10.5" text-anchor="middle" dominant-baseline="central" fill="#000" stroke="#000" stroke-width="0.18" transform="translate(132.30 138.32) scale(0.8 1)" >5</text>
<circle cx="127.60" cy="146.80" r="2.0" fill="#a80000"/>
<text x="0" y="0" font-size="10.5" text-anchor="middle" dominant-baseline="central" fill="#000" stroke="#000" stroke-width="0.18" transform="translate(132.30 148.90) scale(0.8 1)" >6</text>
<circle cx="127.60" cy="157.38" r="2.0" fill="#a80000"/>
<text x="0" y="0" font-size="10.5" text-anchor="middle" dominant-baseline="central" fill="#000" stroke="#000" stroke-width="0.18" transform="translate(132.30 159.48) scale(0.8 1)" >7</text>
<circle cx="127.60" cy="167.96" r="2.0" fill="#a80000"/>
<text x="0" y="0" font-size="10.5" text-anchor="middle" dominant-baseline="central" fill="#000" stroke="#000" stroke-width="0.18" transform="translate(132.30 170.06) scale(0.8 1)" >8</text>
<circle cx="127.60" cy="178.54" r="2.0" fill="#a80000"/>
<text x="0" y="0" font-size="10.5" text-anchor="middle" dominant-baseline="central" fill="#000" stroke="#000" stroke-width="0.18" transform="translate(132.30 180.64) scale(0.8 1)" >9</text>
<circle cx="127.60" cy="189.12" r="2.0" fill="#a80000"/>
<text x="0" y="0" font-size="10.5" text-anchor="middle" dominant-baseline="central" fill="#000" stroke="#000" stroke-width="0.18" transform="translate(134.60 191.22)" textLength="7.9" lengthAdjust="spacingAndGlyphs" >10</text>
<polygon points="138.80,93.90 143.60,91.10 143.60,96.70" fill="#fff" stroke="#000" stroke-width="1.3" />
<text x="0" y="0" font-size="10.5" text-anchor="middle" dominant-baseline="central" fill="#000" stroke="#000" stroke-width="0.18" transform="translate(146.50 141.40) rotate(-90) scale(0.8 1)" >J1</text>
<text x="0" y="0" font-size="10.5" text-anchor="middle" dominant-baseline="central" fill="#000" stroke="#000" stroke-width="0.18" transform="translate(156.90 140.90) rotate(-90)" textLength="58.9" lengthAdjust="spacingAndGlyphs" >Spindle Control</text>
<rect x="117.00" y="220.60" width="21.60" height="95.60" fill="none" stroke="#444" stroke-width="1.3"/>
<circle cx="127.80" cy="231.60" r="2.0" fill="#a80000"/>
<circle cx="127.80" cy="242.18" r="2.0" fill="#a80000"/>
<circle cx="127.80" cy="252.76" r="2.0" fill="#a80000"/>
<circle cx="127.80" cy="263.34" r="2.0" fill="#a80000"/>
<circle cx="127.80" cy="273.92" r="2.0" fill="#a80000"/>
<circle cx="127.80" cy="284.50" r="2.0" fill="#a80000"/>
<circle cx="127.80" cy="295.08" r="2.0" fill="#a80000"/>
<circle cx="127.80" cy="305.66" r="2.0" fill="#a80000"/>
<text x="0" y="0" font-size="10.5" text-anchor="middle" dominant-baseline="central" fill="#000" stroke="#000" stroke-width="0.18" transform="translate(125.00 236.10) scale(0.8 1)" >1</text>
<text x="0" y="0" font-size="10.5" text-anchor="middle" dominant-baseline="central" fill="#000" stroke="#000" stroke-width="0.18" transform="translate(125.00 310.16) scale(0.8 1)" >8</text>
<text x="0" y="0" font-size="10.5" text-anchor="middle" dominant-baseline="central" fill="#000" stroke="#000" stroke-width="0.18" transform="translate(147.60 274.00) rotate(-90) scale(0.8 1)" >J15</text>
<polygon points="127.80,220.30 125.00,215.70 130.60,215.70" fill="#fff" stroke="#000" stroke-width="1.3" />
<rect x="117.00" y="348.00" width="21.60" height="94.70" fill="none" stroke="#444" stroke-width="1.3"/>
<circle cx="127.80" cy="358.80" r="2.0" fill="#a80000"/>
<circle cx="127.80" cy="369.38" r="2.0" fill="#a80000"/>
<circle cx="127.80" cy="379.96" r="2.0" fill="#a80000"/>
<circle cx="127.80" cy="390.54" r="2.0" fill="#a80000"/>
<circle cx="127.80" cy="401.12" r="2.0" fill="#a80000"/>
<circle cx="127.80" cy="411.70" r="2.0" fill="#a80000"/>
<circle cx="127.80" cy="422.28" r="2.0" fill="#a80000"/>
<circle cx="127.80" cy="432.86" r="2.0" fill="#a80000"/>
<text x="0" y="0" font-size="10.5" text-anchor="middle" dominant-baseline="central" fill="#000" stroke="#000" stroke-width="0.18" transform="translate(125.00 363.30) scale(0.8 1)" >1</text>
<text x="0" y="0" font-size="10.5" text-anchor="middle" dominant-baseline="central" fill="#000" stroke="#000" stroke-width="0.18" transform="translate(125.00 437.36) scale(0.8 1)" >8</text>
<text x="0" y="0" font-size="10.5" text-anchor="middle" dominant-baseline="central" fill="#000" stroke="#000" stroke-width="0.18" transform="translate(148.00 394.80) rotate(-90) scale(0.8 1)" >J16</text>
<polygon points="127.80,347.70 125.00,343.10 130.60,343.10" fill="#fff" stroke="#000" stroke-width="1.3" />
<rect x="116.60" y="464.60" width="21.50" height="105.70" fill="none" stroke="#444" stroke-width="1.3"/>
<circle cx="127.80" cy="475.60" r="2.0" fill="#a80000"/>
<text x="0" y="0" font-size="10.5" text-anchor="middle" dominant-baseline="central" fill="#000" stroke="#000" stroke-width="0.18" transform="translate(125.00 480.60) scale(0.8 1)" >1</text>
<circle cx="127.80" cy="486.22" r="2.0" fill="#a80000"/>
<text x="0" y="0" font-size="10.5" text-anchor="middle" dominant-baseline="central" fill="#000" stroke="#000" stroke-width="0.18" transform="translate(125.00 491.22) scale(0.8 1)" >2</text>
<circle cx="127.80" cy="496.84" r="2.0" fill="#a80000"/>
<text x="0" y="0" font-size="10.5" text-anchor="middle" dominant-baseline="central" fill="#000" stroke="#000" stroke-width="0.18" transform="translate(125.00 501.84) scale(0.8 1)" >3</text>
<circle cx="127.80" cy="507.46" r="2.0" fill="#a80000"/>
<text x="0" y="0" font-size="10.5" text-anchor="middle" dominant-baseline="central" fill="#000" stroke="#000" stroke-width="0.18" transform="translate(125.00 512.46) scale(0.8 1)" >4</text>
<circle cx="127.80" cy="518.08" r="2.0" fill="#a80000"/>
<text x="0" y="0" font-size="10.5" text-anchor="middle" dominant-baseline="central" fill="#000" stroke="#000" stroke-width="0.18" transform="translate(125.00 523.08) scale(0.8 1)" >5</text>
<circle cx="127.80" cy="528.70" r="2.0" fill="#a80000"/>
<text x="0" y="0" font-size="10.5" text-anchor="middle" dominant-baseline="central" fill="#000" stroke="#000" stroke-width="0.18" transform="translate(125.00 533.70) scale(0.8 1)" >6</text>
<circle cx="127.80" cy="539.32" r="2.0" fill="#a80000"/>
<text x="0" y="0" font-size="10.5" text-anchor="middle" dominant-baseline="central" fill="#000" stroke="#000" stroke-width="0.18" transform="translate(125.00 544.32) scale(0.8 1)" >7</text>
<circle cx="127.80" cy="549.94" r="2.0" fill="#a80000"/>
<text x="0" y="0" font-size="10.5" text-anchor="middle" dominant-baseline="central" fill="#000" stroke="#000" stroke-width="0.18" transform="translate(125.00 554.94) scale(0.8 1)" >8</text>
<circle cx="127.80" cy="560.56" r="2.0" fill="#a80000"/>
<text x="0" y="0" font-size="10.5" text-anchor="middle" dominant-baseline="central" fill="#000" stroke="#000" stroke-width="0.18" transform="translate(125.00 565.56) scale(0.8 1)" >9</text>
<polygon points="139.80,475.30 144.40,472.70 144.40,477.90" fill="#fff" stroke="#000" stroke-width="1.3" />
<text x="0" y="0" font-size="10.5" text-anchor="middle" dominant-baseline="central" fill="#000" stroke="#000" stroke-width="0.18" transform="translate(147.00 517.40) rotate(-90) scale(0.8 1)" >J9</text>
<text x="0" y="0" font-size="10.5" text-anchor="middle" dominant-baseline="central" fill="#000" stroke="#000" stroke-width="0.18" transform="translate(158.20 518.00) rotate(-90)" textLength="30.8" lengthAdjust="spacingAndGlyphs" >Encoder</text>
<rect x="276.00" y="220.50" width="21.20" height="96.00" fill="none" stroke="#444" stroke-width="1.3"/>
<circle cx="286.40" cy="231.60" r="2.0" fill="#a80000"/>
<circle cx="286.40" cy="242.18" r="2.0" fill="#a80000"/>
<circle cx="286.40" cy="252.76" r="2.0" fill="#a80000"/>
<circle cx="286.40" cy="263.34" r="2.0" fill="#a80000"/>
<circle cx="286.40" cy="273.92" r="2.0" fill="#a80000"/>
<circle cx="286.40" cy="284.50" r="2.0" fill="#a80000"/>
<circle cx="286.40" cy="295.08" r="2.0" fill="#a80000"/>
<circle cx="286.40" cy="305.66" r="2.0" fill="#a80000"/>
<text x="0" y="0" font-size="10.5" text-anchor="middle" dominant-baseline="central" fill="#000" stroke="#000" stroke-width="0.18" transform="translate(284.00 236.10) scale(0.8 1)" >1</text>
<text x="0" y="0" font-size="10.5" text-anchor="middle" dominant-baseline="central" fill="#000" stroke="#000" stroke-width="0.18" transform="translate(284.00 310.16) scale(0.8 1)" >8</text>
<text x="0" y="0" font-size="10.5" text-anchor="middle" dominant-baseline="central" fill="#000" stroke="#000" stroke-width="0.18" transform="translate(306.50 272.60) rotate(-90) scale(0.8 1)" >J14</text>
<polygon points="298.60,231.60 303.20,229.00 303.20,234.20" fill="#fff" stroke="#000" stroke-width="1.3" />
<rect x="276.00" y="348.10" width="21.20" height="95.60" fill="none" stroke="#444" stroke-width="1.3"/>
<circle cx="286.40" cy="359.30" r="2.0" fill="#a80000"/>
<circle cx="286.40" cy="369.88" r="2.0" fill="#a80000"/>
<circle cx="286.40" cy="380.46" r="2.0" fill="#a80000"/>
<circle cx="286.40" cy="391.04" r="2.0" fill="#a80000"/>
<circle cx="286.40" cy="401.62" r="2.0" fill="#a80000"/>
<circle cx="286.40" cy="412.20" r="2.0" fill="#a80000"/>
<circle cx="286.40" cy="422.78" r="2.0" fill="#a80000"/>
<circle cx="286.40" cy="433.36" r="2.0" fill="#a80000"/>
<text x="0" y="0" font-size="10.5" text-anchor="middle" dominant-baseline="central" fill="#000" stroke="#000" stroke-width="0.18" transform="translate(284.00 363.80) scale(0.8 1)" >1</text>
<text x="0" y="0" font-size="10.5" text-anchor="middle" dominant-baseline="central" fill="#000" stroke="#000" stroke-width="0.18" transform="translate(284.00 437.86) scale(0.8 1)" >8</text>
<text x="0" y="0" font-size="10.5" text-anchor="middle" dominant-baseline="central" fill="#000" stroke="#000" stroke-width="0.18" transform="translate(306.50 395.30) rotate(-90) scale(0.8 1)" >J13</text>
<polygon points="298.60,359.30 303.20,356.70 303.20,361.90" fill="#fff" stroke="#000" stroke-width="1.3" />
<text x="0" y="0" font-size="10.5" text-anchor="middle" dominant-baseline="central" fill="#000" stroke="#000" stroke-width="0.18" transform="translate(190.60 534.00)" textLength="19" lengthAdjust="spacingAndGlyphs" >RJ45</text>
<text x="0" y="0" font-size="10.5" text-anchor="middle" dominant-baseline="central" fill="#000" stroke="#000" stroke-width="0.18" transform="translate(191.00 549.20) scale(0.8 1)" >J12</text>
<rect x="180.60" y="560.30" width="21.10" height="21.10" fill="none" stroke="#111" stroke-width="1.2"/>
<line x1="180.60" y1="571.30" x2="201.70" y2="571.30" stroke="#111" stroke-width="1.1" />
<line x1="185.80" y1="568.30" x2="185.80" y2="571.30" stroke="#111" stroke-width="1.1" />
<line x1="196.60" y1="568.30" x2="196.60" y2="571.30" stroke="#111" stroke-width="1.1" />
<line x1="191.10" y1="571.30" x2="191.10" y2="573.30" stroke="#111" stroke-width="1.1" />
<rect x="183.20" y="563.30" width="5.20" height="5.00" fill="#fff" stroke="#111" stroke-width="1.1"/>
<rect x="193.80" y="563.30" width="5.60" height="5.00" fill="#fff" stroke="#111" stroke-width="1.1"/>
<rect x="188.60" y="573.30" width="5.00" height="6.00" fill="#fff" stroke="#111" stroke-width="1.1"/>
<polygon points="180.30,563.00 175.30,560.30 175.30,565.70" fill="#fff" stroke="#000" stroke-width="1.3" />
<text x="0" y="0" font-size="10.5" text-anchor="middle" dominant-baseline="central" fill="#000" stroke="#000" stroke-width="0.18" transform="translate(233.10 534.00)" textLength="24" lengthAdjust="spacingAndGlyphs" >RS485</text>
<text x="0" y="0" font-size="10.5" text-anchor="middle" dominant-baseline="central" fill="#000" stroke="#000" stroke-width="0.18" transform="translate(233.50 549.20) scale(0.8 1)" >J11</text>
<rect x="223.10" y="560.30" width="21.10" height="21.10" fill="none" stroke="#111" stroke-width="1.2"/>
<circle cx="233.60" cy="581.40" r="2.0" fill="#a80000"/>
<polygon points="244.60,574.00 249.20,571.40 249.20,576.60" fill="#fff" stroke="#000" stroke-width="1.3" />
<text x="0" y="0" font-size="10.5" text-anchor="middle" dominant-baseline="central" fill="#000" stroke="#000" stroke-width="0.18" transform="translate(296.70 534.00)" textLength="53" lengthAdjust="spacingAndGlyphs" >Aux Control 2</text>
<text x="0" y="0" font-size="10.5" text-anchor="middle" dominant-baseline="central" fill="#000" stroke="#000" stroke-width="0.18" transform="translate(297.00 549.20) scale(0.8 1)" >P1</text>
<rect x="265.30" y="560.30" width="64.00" height="21.10" fill="none" stroke="#111" stroke-width="1.2"/>
<circle cx="297.40" cy="581.40" r="2.0" fill="#a80000"/>
<polygon points="323.70,559.80 321.10,555.20 326.30,555.20" fill="#fff" stroke="#000" stroke-width="1.3" />
<rect x="186.1" y="581.4" width="9.9" height="29.6" fill="#4a0a52"/>
<circle cx="191.00" cy="581.40" r="2.0" fill="#a80000"/>
<text x="0" y="0" font-size="10.5" text-anchor="middle" dominant-baseline="central" fill="#000" stroke="#000" stroke-width="0.18" transform="translate(183.40 599.00) rotate(-90)" textLength="13" lengthAdjust="spacingAndGlyphs" >901</text>
<rect x="169.90" y="611.00" width="42.60" height="42.40" fill="none" stroke="#222" stroke-width="1.3"/>
<rect x="175.20" y="621.40" width="32.20" height="21.30" fill="none" stroke="#111" stroke-width="1.2"/>
<path d="M177.9,624.1 H204.7 V637.1 H197 V639.4 H194.3 V641.8 H188.5 V639.4 H185.9 V637.1 H177.9 Z" fill="none" stroke="#000" stroke-width="1.1"/>
<rect x="182.7" y="624.1" width="16.9" height="3.5" fill="#111"/>
<rect x="185.6" y="624.6" width="0.7" height="2.6" fill="#aaa"/>
<rect x="188.4" y="624.6" width="0.7" height="2.6" fill="#aaa"/>
<rect x="191.2" y="624.6" width="0.7" height="2.6" fill="#aaa"/>
<rect x="194" y="624.6" width="0.7" height="2.6" fill="#aaa"/>
<rect x="196.8" y="624.6" width="0.7" height="2.6" fill="#aaa"/>
<circle cx="191.00" cy="611.00" r="2.0" fill="#a80000"/>
<circle cx="191.00" cy="653.40" r="2.0" fill="#a80000"/>
<text x="0" y="0" font-size="10.5" text-anchor="middle" dominant-baseline="central" fill="#000" stroke="#000" stroke-width="0.18" transform="translate(247.50 644.20)" textLength="60" lengthAdjust="spacingAndGlyphs" >PPC COM PORT</text>
<text x="0" y="0" font-size="5.5" text-anchor="middle" dominant-baseline="central" fill="#222" stroke="#222" stroke-width="0.05" transform="translate(224.50 651.30)" textLength="13" lengthAdjust="spacingAndGlyphs" >-XS14</text>
<text x="0" y="0" font-size="10.5" text-anchor="middle" dominant-baseline="central" fill="#000" stroke="#000" stroke-width="0.18" transform="translate(413.20 534.00)" textLength="81.5" lengthAdjust="spacingAndGlyphs" >Limit / Door Switches</text>
<text x="0" y="0" font-size="10.5" text-anchor="middle" dominant-baseline="central" fill="#000" stroke="#000" stroke-width="0.18" transform="translate(414.30 549.20) scale(0.8 1)" >J2</text>
<line x1="361.00" y1="570.30" x2="361.00" y2="624.80" stroke="#ffb300" stroke-width="2" />
<line x1="382.20" y1="570.30" x2="382.20" y2="624.80" stroke="#ffb300" stroke-width="2" />
<line x1="403.30" y1="570.30" x2="403.30" y2="624.80" stroke="#ffb300" stroke-width="2" />
<polyline points="424.70,570.30 424.70,635.00 501.20,635.00 501.20,652.00" fill="none" stroke="#ffb300" stroke-width="2" />
<polygon points="501.20,660.90 496.60,649.80 505.80,649.80" fill="#000" stroke="none" stroke-width="1" />
<polyline points="467.20,570.30 467.20,613.60 624.30,613.60" fill="none" stroke="#0000f0" stroke-width="2" />
<polyline points="624.30,634.70 543.80,634.70 543.80,652.00" fill="none" stroke="#0000f0" stroke-width="2" />
<polygon points="543.80,649.80 539.20,660.00 548.40,660.00" fill="#000" stroke="none" stroke-width="1" />
<rect x="350.20" y="560.40" width="127.40" height="21.00" fill="none" stroke="#111" stroke-width="1.2"/>
<circle cx="361.00" cy="571.10" r="2.1" fill="#a80000"/>
<text x="0" y="0" font-size="10.5" text-anchor="middle" dominant-baseline="central" fill="#000" stroke="#000" stroke-width="0.18" transform="translate(366.50 573.30) rotate(-90) scale(0.8 1)" >1</text>
<circle cx="382.20" cy="571.10" r="2.1" fill="#a80000"/>
<text x="0" y="0" font-size="10.5" text-anchor="middle" dominant-baseline="central" fill="#000" stroke="#000" stroke-width="0.18" transform="translate(387.70 573.30) rotate(-90) scale(0.8 1)" >2</text>
<circle cx="403.30" cy="571.10" r="2.1" fill="#a80000"/>
<text x="0" y="0" font-size="10.5" text-anchor="middle" dominant-baseline="central" fill="#000" stroke="#000" stroke-width="0.18" transform="translate(408.80 573.30) rotate(-90) scale(0.8 1)" >3</text>
<circle cx="424.70" cy="571.10" r="2.1" fill="#a80000"/>
<text x="0" y="0" font-size="10.5" text-anchor="middle" dominant-baseline="central" fill="#000" stroke="#000" stroke-width="0.18" transform="translate(430.20 573.30) rotate(-90) scale(0.8 1)" >4</text>
<circle cx="445.80" cy="571.10" r="2.1" fill="#a80000"/>
<text x="0" y="0" font-size="10.5" text-anchor="middle" dominant-baseline="central" fill="#000" stroke="#000" stroke-width="0.18" transform="translate(451.30 573.30) rotate(-90) scale(0.8 1)" >5</text>
<circle cx="467.20" cy="571.10" r="2.1" fill="#a80000"/>
<text x="0" y="0" font-size="10.5" text-anchor="middle" dominant-baseline="central" fill="#000" stroke="#000" stroke-width="0.18" transform="translate(472.70 573.30) rotate(-90) scale(0.8 1)" >6</text>
<polygon points="361.00,559.80 358.20,555.40 363.80,555.40" fill="#fff" stroke="#000" stroke-width="1.3" />
<text x="0" y="0" font-size="12.5" text-anchor="middle" dominant-baseline="central" fill="#000" stroke="#000" stroke-width="0.18" transform="translate(540.20 571.40)" textLength="50.7" lengthAdjust="spacingAndGlyphs" >37509 1.5</text>
<text x="0" y="0" font-size="10.5" text-anchor="middle" dominant-baseline="central" fill="#000" stroke="#000" stroke-width="0.18" transform="translate(545.30 583.20)" textLength="42.7" lengthAdjust="spacingAndGlyphs" >ECM1 V1.5</text>
<circle cx="360.9" cy="629.2" r="4.3" fill="#fff" stroke="#000" stroke-width="1.1"/>
<line x1="360.90" y1="624.90" x2="360.90" y2="633.50" stroke="#7a7a7a" stroke-width="1.5" />
<line x1="360.90" y1="633.60" x2="360.90" y2="658.00" stroke="#000" stroke-width="2.2" />
<polygon points="360.90,657.30 356.30,666.80 365.50,666.80" fill="#000" stroke="none" stroke-width="1" />
<text x="0" y="0" font-size="10.5" text-anchor="middle" dominant-baseline="central" fill="#000" stroke="#000" stroke-width="0.18" transform="translate(356.10 602.30) rotate(-90)" textLength="13.1" lengthAdjust="spacingAndGlyphs" >455</text>
<text x="0" y="0" font-size="10.5" text-anchor="middle" dominant-baseline="central" fill="#000" stroke="#000" stroke-width="0.18" transform="translate(355.90 645.40) rotate(-90)" textLength="14" lengthAdjust="spacingAndGlyphs" >502</text>
<text x="0" y="0" font-size="10.5" text-anchor="middle" dominant-baseline="central" fill="#000" stroke="#000" stroke-width="0.18" transform="translate(369.50 622.80)" textLength="9.9" lengthAdjust="spacingAndGlyphs" >21</text>
<text x="0" y="0" font-size="7.6" text-anchor="middle" dominant-baseline="central" fill="#222" stroke="#222" stroke-width="0.05" transform="translate(361.20 684.00) rotate(-90)" textLength="25.5" lengthAdjust="spacingAndGlyphs" >P7 - COL6</text>
<circle cx="382.2" cy="629.2" r="4.3" fill="#fff" stroke="#000" stroke-width="1.1"/>
<line x1="382.20" y1="624.90" x2="382.20" y2="633.50" stroke="#7a7a7a" stroke-width="1.5" />
<line x1="382.20" y1="633.60" x2="382.20" y2="658.00" stroke="#000" stroke-width="2.2" />
<polygon points="382.20,657.30 377.60,666.80 386.80,666.80" fill="#000" stroke="none" stroke-width="1" />
<text x="0" y="0" font-size="10.5" text-anchor="middle" dominant-baseline="central" fill="#000" stroke="#000" stroke-width="0.18" transform="translate(377.40 602.30) rotate(-90)" textLength="13.1" lengthAdjust="spacingAndGlyphs" >457</text>
<text x="0" y="0" font-size="10.5" text-anchor="middle" dominant-baseline="central" fill="#000" stroke="#000" stroke-width="0.18" transform="translate(377.20 645.40) rotate(-90)" textLength="14" lengthAdjust="spacingAndGlyphs" >504</text>
<text x="0" y="0" font-size="10.5" text-anchor="middle" dominant-baseline="central" fill="#000" stroke="#000" stroke-width="0.18" transform="translate(390.50 622.80)" textLength="9.9" lengthAdjust="spacingAndGlyphs" >22</text>
<text x="0" y="0" font-size="7.6" text-anchor="middle" dominant-baseline="central" fill="#222" stroke="#222" stroke-width="0.05" transform="translate(382.50 684.00) rotate(-90)" textLength="25.5" lengthAdjust="spacingAndGlyphs" >P7 - COL6</text>
<circle cx="403.2" cy="629.2" r="4.3" fill="#fff" stroke="#000" stroke-width="1.1"/>
<line x1="403.20" y1="624.90" x2="403.20" y2="633.50" stroke="#7a7a7a" stroke-width="1.5" />
<line x1="403.20" y1="633.60" x2="403.20" y2="658.00" stroke="#000" stroke-width="2.2" />
<polygon points="403.20,657.30 398.60,666.80 407.80,666.80" fill="#000" stroke="none" stroke-width="1" />
<text x="0" y="0" font-size="10.5" text-anchor="middle" dominant-baseline="central" fill="#000" stroke="#000" stroke-width="0.18" transform="translate(398.40 602.30) rotate(-90)" textLength="13.1" lengthAdjust="spacingAndGlyphs" >459</text>
<text x="0" y="0" font-size="10.5" text-anchor="middle" dominant-baseline="central" fill="#000" stroke="#000" stroke-width="0.18" transform="translate(398.20 645.40) rotate(-90)" textLength="14" lengthAdjust="spacingAndGlyphs" >506</text>
<text x="0" y="0" font-size="10.5" text-anchor="middle" dominant-baseline="central" fill="#000" stroke="#000" stroke-width="0.18" transform="translate(411.70 622.80)" textLength="9.9" lengthAdjust="spacingAndGlyphs" >23</text>
<text x="0" y="0" font-size="7.6" text-anchor="middle" dominant-baseline="central" fill="#222" stroke="#222" stroke-width="0.05" transform="translate(403.50 684.00) rotate(-90)" textLength="25.5" lengthAdjust="spacingAndGlyphs" >P7 - COL6</text>
<text x="0" y="0" font-size="10.5" text-anchor="middle" dominant-baseline="central" fill="#000" stroke="#000" stroke-width="0.18" transform="translate(350.60 622.80)" textLength="13.1" lengthAdjust="spacingAndGlyphs" >-X2</text>
<text x="0" y="0" font-size="10.5" text-anchor="middle" dominant-baseline="central" fill="#000" stroke="#000" stroke-width="0.18" transform="translate(419.70 602.30) rotate(-90)" textLength="13.1" lengthAdjust="spacingAndGlyphs" >460</text>
<text x="0" y="0" font-size="10.5" text-anchor="middle" dominant-baseline="central" fill="#000" stroke="#000" stroke-width="0.18" transform="translate(461.30 602.30) rotate(-90)" textLength="13.1" lengthAdjust="spacingAndGlyphs" >485</text>
<text x="0" y="0" font-size="7.6" text-anchor="middle" dominant-baseline="central" fill="#222" stroke="#222" stroke-width="0.05" transform="translate(501.20 679.00) rotate(-90)" textLength="28" lengthAdjust="spacingAndGlyphs" >P20 - COL4</text>
<text x="0" y="0" font-size="7.6" text-anchor="middle" dominant-baseline="central" fill="#222" stroke="#222" stroke-width="0.05" transform="translate(543.80 679.00) rotate(-90)" textLength="28" lengthAdjust="spacingAndGlyphs" >P20 - COL4</text>
<text x="0" y="0" font-size="10.5" text-anchor="middle" dominant-baseline="central" fill="#000" stroke="#000" stroke-width="0.18" transform="translate(580.00 608.30)" textLength="13.3" lengthAdjust="spacingAndGlyphs" >485</text>
<text x="0" y="0" font-size="10.5" text-anchor="middle" dominant-baseline="central" fill="#000" stroke="#000" stroke-width="0.18" transform="translate(580.00 629.40)" textLength="13.3" lengthAdjust="spacingAndGlyphs" >486</text>
<line x1="628.50" y1="581.00" x2="628.50" y2="645.00" stroke="#333" stroke-width="1.1" />
<line x1="633.00" y1="592.20" x2="676.00" y2="592.20" stroke="#000" stroke-width="2.2" />
<circle cx="628.5" cy="592.2" r="4.3" fill="none" stroke="#000" stroke-width="1.1"/>
<line x1="624.00" y1="592.20" x2="633.00" y2="592.20" stroke="#000" stroke-width="1.1" />
<text x="0" y="0" font-size="10.5" text-anchor="middle" dominant-baseline="central" fill="#000" stroke="#000" stroke-width="0.18" transform="translate(637.50 586.60)" textLength="9" lengthAdjust="spacingAndGlyphs" >18</text>
<text x="0" y="0" font-size="10.5" text-anchor="middle" dominant-baseline="central" fill="#000" stroke="#000" stroke-width="0.18" transform="translate(671.50 587.00)" textLength="14" lengthAdjust="spacingAndGlyphs" >503</text>
<line x1="633.00" y1="613.60" x2="676.00" y2="613.60" stroke="#000" stroke-width="2.2" />
<circle cx="628.5" cy="613.6" r="4.3" fill="none" stroke="#000" stroke-width="1.1"/>
<line x1="624.00" y1="613.60" x2="633.00" y2="613.60" stroke="#000" stroke-width="1.1" />
<text x="0" y="0" font-size="10.5" text-anchor="middle" dominant-baseline="central" fill="#000" stroke="#000" stroke-width="0.18" transform="translate(637.50 608.00)" textLength="9" lengthAdjust="spacingAndGlyphs" >19</text>
<text x="0" y="0" font-size="10.5" text-anchor="middle" dominant-baseline="central" fill="#000" stroke="#000" stroke-width="0.18" transform="translate(671.50 608.40)" textLength="14" lengthAdjust="spacingAndGlyphs" >505</text>
<line x1="633.00" y1="634.70" x2="676.00" y2="634.70" stroke="#000" stroke-width="2.2" />
<circle cx="628.5" cy="634.7" r="4.3" fill="none" stroke="#000" stroke-width="1.1"/>
<line x1="624.00" y1="634.70" x2="633.00" y2="634.70" stroke="#000" stroke-width="1.1" />
<text x="0" y="0" font-size="10.5" text-anchor="middle" dominant-baseline="central" fill="#000" stroke="#000" stroke-width="0.18" transform="translate(637.50 629.10)" textLength="9" lengthAdjust="spacingAndGlyphs" >20</text>
<text x="0" y="0" font-size="10.5" text-anchor="middle" dominant-baseline="central" fill="#000" stroke="#000" stroke-width="0.18" transform="translate(675.00 629.50)" textLength="14" lengthAdjust="spacingAndGlyphs" >507</text>
<text x="0" y="0" font-size="10.5" text-anchor="middle" dominant-baseline="central" fill="#000" stroke="#000" stroke-width="0.18" transform="translate(618.20 586.30)" textLength="12.5" lengthAdjust="spacingAndGlyphs" >-X2</text>
</svg></body></html>
